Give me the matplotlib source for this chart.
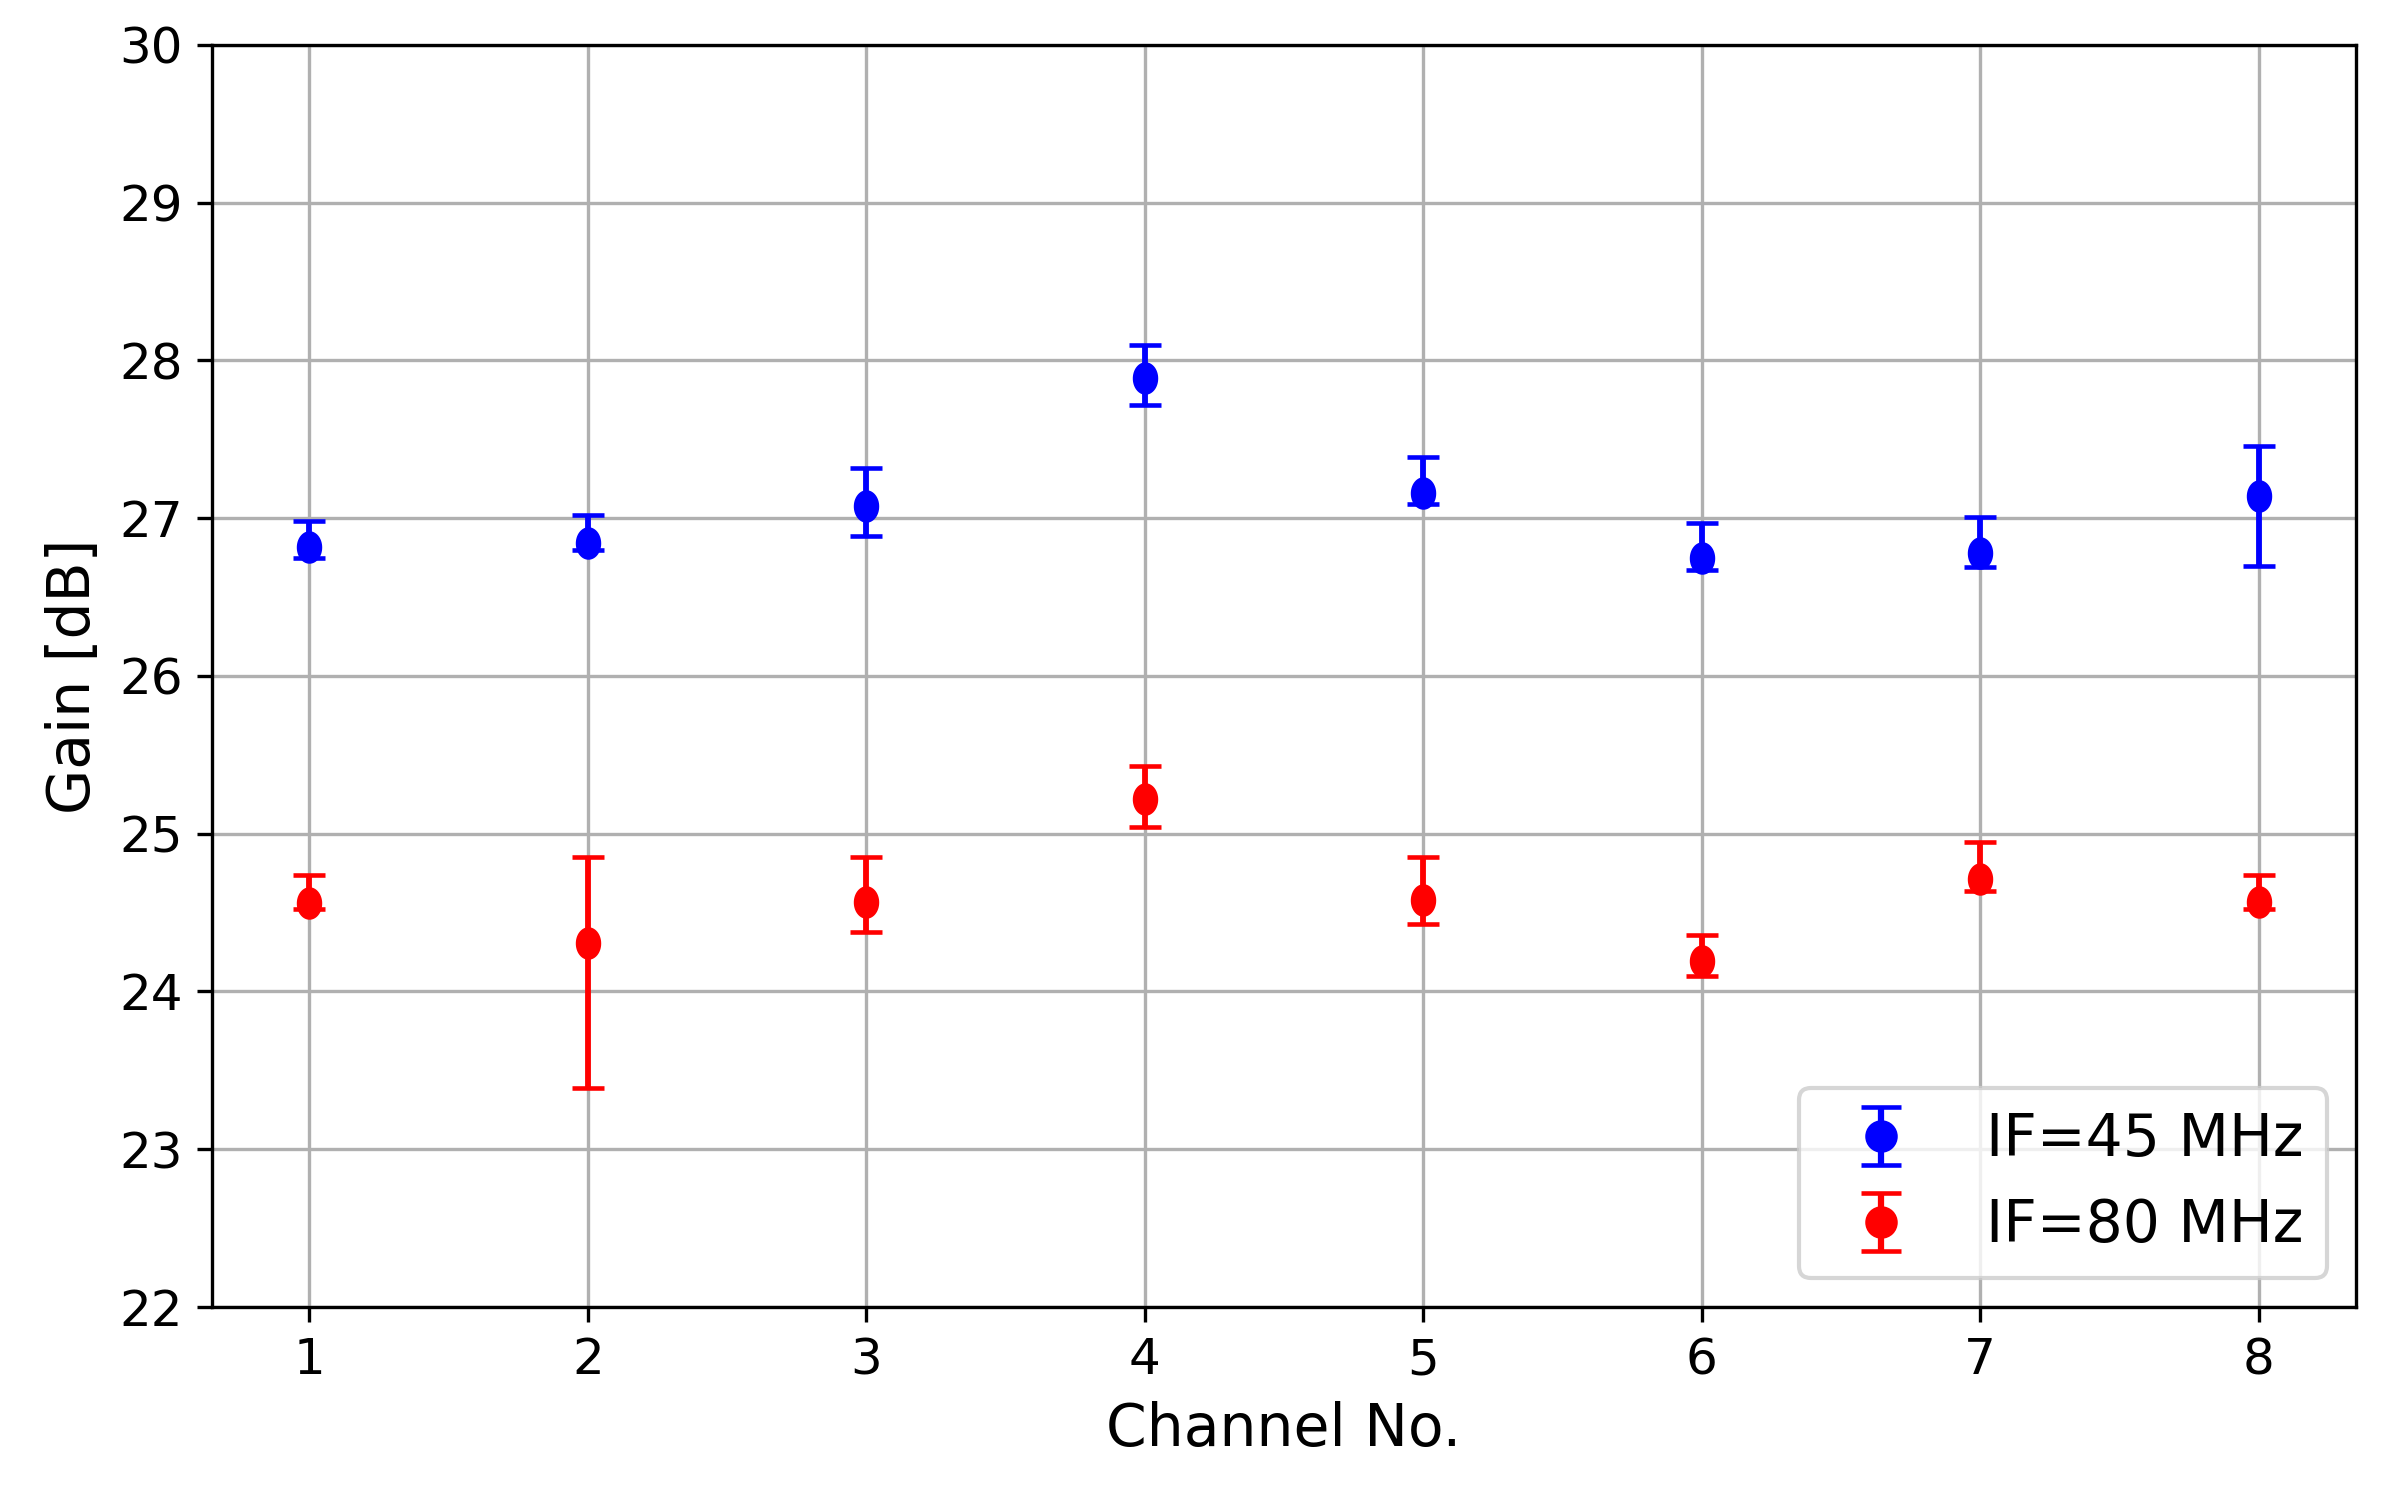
import numpy as np
import matplotlib
matplotlib.use("Agg")
import matplotlib.pyplot as plt
from matplotlib.path import Path

channels = [1, 2, 3, 4, 5, 6, 7, 8]

gain_45 = [26.82, 26.84, 27.08, 27.89, 27.16, 26.75, 26.78, 27.14]
gain_45_upper = [26.98, 27.02, 27.32, 28.10, 27.39, 26.97, 27.01, 27.46]
gain_45_lower = [26.75, 26.80, 26.89, 27.72, 27.09, 26.67, 26.69, 26.70]

gain_80 = [24.56, 24.31, 24.57, 25.22, 24.58, 24.19, 24.71, 24.57]
gain_80_upper = [24.74, 24.85, 24.85, 25.43, 24.85, 24.36, 24.95, 24.74]
gain_80_lower = [24.52, 23.39, 24.38, 25.04, 24.43, 24.10, 24.64, 24.52]

labels = ["IF=45 MHz", "IF=80 MHz"]
yticks = [22, 23, 24, 25, 26, 27, 28, 29, 30]

fig = plt.figure(figsize=(8, 5), dpi=300)
ax = fig.add_axes([0.0883, 0.1287, 0.8934, 0.8413])

t = np.linspace(0, 2 * np.pi, 60)
ellipse = Path(np.column_stack([0.75 * np.cos(t), np.sin(t)]), closed=True)

def draw(vals, up, lo, color, label):
    vals = np.array(vals)
    yerr = np.vstack([vals - np.array(lo), np.array(up) - vals])
    ax.errorbar(channels, vals, yerr=yerr, fmt='none', ecolor=color,
                elinewidth=1.4, capsize=3.75, capthick=1.1, zorder=3)
    ax.plot(channels, vals, linestyle='none', marker=ellipse, markersize=6.8,
            color=color, zorder=4)
    ax.errorbar([np.nan], [np.nan], yerr=[[0.2], [0.2]], fmt='o', color=color,
                markersize=6.8, elinewidth=1.5, capsize=4.7, capthick=1.1,
                label=label)

draw(gain_45, gain_45_upper, gain_45_lower, 'blue', labels[0])
draw(gain_80, gain_80_upper, gain_80_lower, 'red', labels[1])

ax.set_ylim(22, 30)
ax.set_xlim(0.65, 8.35)
ax.set_yticks(yticks)
ax.set_xticks(channels)
ax.tick_params(labelsize=12)
ax.grid(True)
ax.set_axisbelow(True)
ax.set_xlabel("Channel No.", fontsize=14)
ax.set_ylabel("Gain [dB]", fontsize=14)
ax.legend(loc='lower right', fontsize=14)

fig.savefig("out.png", dpi=300)
